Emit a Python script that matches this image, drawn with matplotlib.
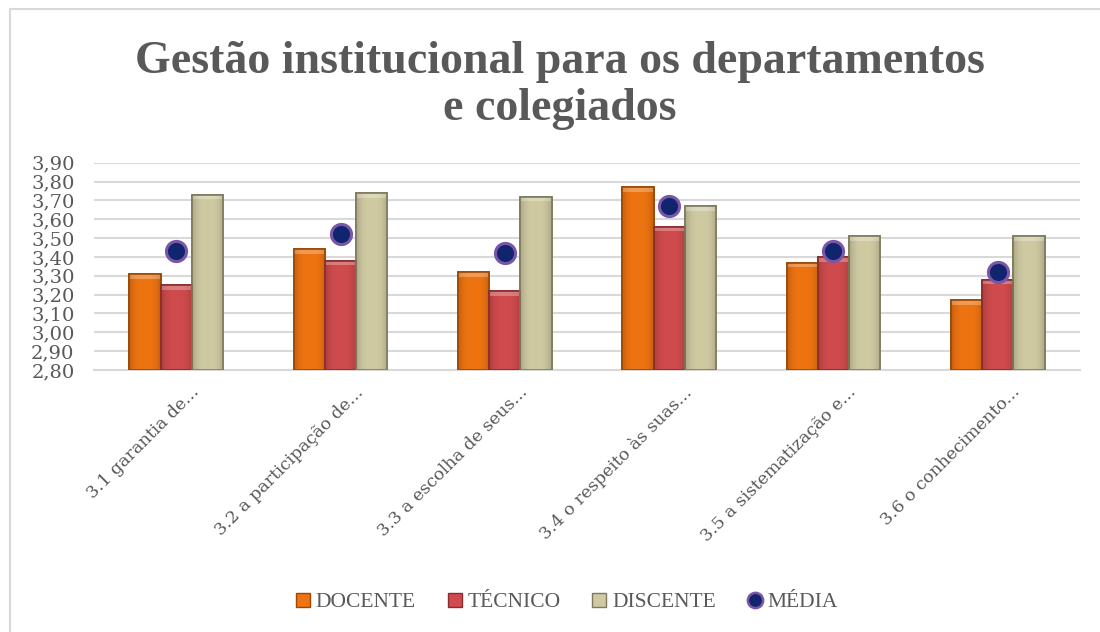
import numpy as np
import matplotlib
matplotlib.use("Agg")
import matplotlib.pyplot as plt
from matplotlib.lines import Line2D
from matplotlib.colors import to_rgb
import matplotlib.transforms as mtransforms

categories = ["3.1 garantia de...", "3.2 a participação de...", "3.3 a escolha de seus...",
              "3.4 o respeito às suas...", "3.5 a sistematização e...", "3.6 o conhecimento..."]
docente = [3.31, 3.44, 3.32, 3.77, 3.37, 3.17]
tecnico = [3.25, 3.38, 3.22, 3.56, 3.40, 3.28]
discente = [3.73, 3.74, 3.72, 3.67, 3.51, 3.51]
media = [3.43, 3.52, 3.42, 3.67, 3.43, 3.32]
yticks = [2.80, 2.90, 3.00, 3.10, 3.20, 3.30, 3.40, 3.50, 3.60, 3.70, 3.80, 3.90]
ytick_labels = ["2,80", "2,90", "3,00", "3,10", "3,20", "3,30", "3,40", "3,50", "3,60", "3,70", "3,80", "3,90"]
series_names = ["DOCENTE", "TÉCNICO", "DISCENTE", "MÉDIA"]

W, H = 1100, 632
fig = plt.figure(figsize=(W / 100, H / 100), dpi=100)
fig.patch.set_facecolor("white")

# outer chart border (left and top visible)
fig.add_artist(Line2D([10 / W, 10 / W], [0, 1 - 9 / H], color="#D9D9D9", lw=1.5))
fig.add_artist(Line2D([10 / W, 1], [1 - 9 / H, 1 - 9 / H], color="#D9D9D9", lw=1.5))

title_font = ["Liberation Serif", "DejaVu Serif"]
axis_font = ["DejaVu Serif"]
gray = "#595959"

fig.text(560 / W, 1 - 62 / H, "Gestão institucional para os departamentos", ha="center", va="center",
         fontsize=33, fontweight="bold", color=gray, family=title_font)
fig.text(560 / W, 1 - 109 / H, "e colegiados", ha="center", va="center",
         fontsize=33, fontweight="bold", color=gray, family=title_font)

left, right, top, bottom = 94, 1080, 162.7, 370
ax = fig.add_axes([left / W, 1 - bottom / H, (right - left) / W, (bottom - top) / H])
ax.set_facecolor("white")

x = np.arange(len(categories))
bw = 0.19
colors = ["#EE7411", "#CF4B4D", "#CFCAA2"]
edges = ["#9A4806", "#8A2C2E", "#7E7A5C"]


def shaded_image(color):
    c = np.array(to_rgb(color))
    u = np.linspace(0, 1, 60)
    prof = 1.0 - 0.18 * (np.abs(u - 0.5) * 2) ** 3
    img = np.clip(c[None, :] * prof[:, None], 0, 1)
    return img[None, :, :]


for i, (vals, c, e) in enumerate(zip([docente, tecnico, discente], colors, edges)):
    bars = ax.bar(x + (i - 1) * bw, np.array(vals) - 2.80, bottom=2.80, width=bw, color=c,
                  edgecolor=e, linewidth=1.2, zorder=3)
    for b in bars:
        bx, by = b.get_x(), b.get_y()
        bwid, bh = b.get_width(), b.get_height()
        im = ax.imshow(shaded_image(c), extent=(bx, bx + bwid, by, by + bh), aspect="auto",
                       zorder=3.5, interpolation="bilinear")
        im.set_clip_path(b)
        # light bevel band at the top of each bar
        ax.bar(bx + bwid / 2, 0.025, bottom=by + bh - 0.025, width=bwid * 0.96,
               color="white", alpha=0.28, linewidth=0, zorder=3.6)
        ax.bar(bx + bwid / 2, bh, bottom=by, width=bwid, fill=False, edgecolor=e,
               linewidth=1.2, zorder=3.7)

ax.plot(x, media, linestyle="none", marker="o", markersize=14.5, markerfacecolor="#10256E",
        markeredgecolor="#7A56A8", markeredgewidth=2.2, zorder=5)

ax.set_xlim(-0.5, len(categories) - 0.5)
ax.set_ylim(2.80, 3.90)
ax.set_yticks(yticks)
ax.set_yticklabels(ytick_labels, family=axis_font, fontsize=14, color=gray)
ax.yaxis.grid(True, color="#D9D9D9", linewidth=1.5, zorder=0)
ax.set_axisbelow(True)
for s in ["left", "right", "top"]:
    ax.spines[s].set_visible(False)
ax.spines["bottom"].set_color("#D9D9D9")
ax.spines["bottom"].set_linewidth(1.5)
ax.tick_params(axis="y", length=0, pad=14)
ax.tick_params(axis="x", length=0, pad=4)

ax.set_xticks(x)
ax.set_xticklabels(categories, rotation=45, ha="right", rotation_mode="anchor",
                   family=axis_font, fontsize=12.5, color=gray)
offset = mtransforms.ScaledTranslation(14 / 100, -8 / 100, fig.dpi_scale_trans)
for lab in ax.get_xticklabels():
    lab.set_transform(lab.get_transform() + offset)

handles = [
    Line2D([], [], linestyle="none", marker="s", markersize=10, markerfacecolor=colors[0], markeredgecolor=edges[0]),
    Line2D([], [], linestyle="none", marker="s", markersize=10, markerfacecolor=colors[1], markeredgecolor=edges[1]),
    Line2D([], [], linestyle="none", marker="s", markersize=10, markerfacecolor=colors[2], markeredgecolor=edges[2]),
    Line2D([], [], linestyle="none", marker="o", markersize=11, markerfacecolor="#10256E",
           markeredgecolor="#7A56A8", markeredgewidth=1.8),
]
fig.legend(handles, series_names, loc="center", bbox_to_anchor=(565 / W, 1 - 602 / H), ncol=4,
           frameon=False, prop={"family": title_font, "size": 15.5}, labelcolor=gray,
           handletextpad=0.1, columnspacing=1.3, handlelength=1.0)

fig.savefig("out.png", dpi=100, facecolor="white")
